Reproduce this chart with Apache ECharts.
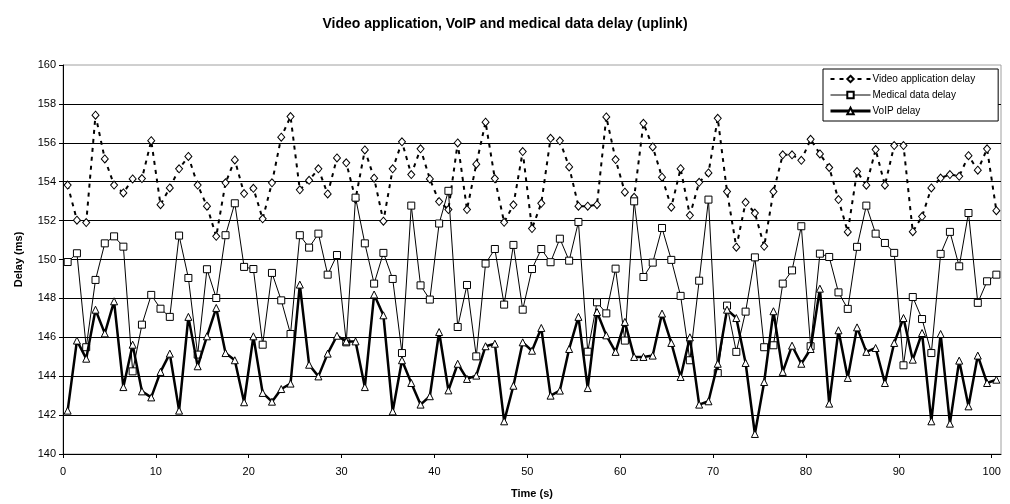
<!DOCTYPE html>
<html>
<head>
<meta charset="utf-8">
<script src="https://cdn.jsdelivr.net/npm/echarts@6/dist/echarts.min.js"></script>
<style>
  html, body { margin: 0; padding: 0; background: #fff; }
  #chart { width: 1010px; height: 504px; }
</style>
</head>
<body>
<div id="chart"></div>
<script>
// Sample times (s)
const times = [
  0.5, 1.5, 2.5, 3.5, 4.5, 5.5, 6.5, 7.5, 8.5, 9.5,
  10.5, 11.5, 12.5, 13.5, 14.5, 15.5, 16.5, 17.5, 18.5, 19.5,
  20.5, 21.5, 22.5, 23.5, 24.5, 25.5, 26.5, 27.5, 28.5, 29.5,
  30.5, 31.5, 32.5, 33.5, 34.5, 35.5, 36.5, 37.5, 38.5, 39.5,
  40.5, 41.5, 42.5, 43.5, 44.5, 45.5, 46.5, 47.5, 48.5, 49.5,
  50.5, 51.5, 52.5, 53.5, 54.5, 55.5, 56.5, 57.5, 58.5, 59.5,
  60.5, 61.5, 62.5, 63.5, 64.5, 65.5, 66.5, 67.5, 68.5, 69.5,
  70.5, 71.5, 72.5, 73.5, 74.5, 75.5, 76.5, 77.5, 78.5, 79.5,
  80.5, 81.5, 82.5, 83.5, 84.5, 85.5, 86.5, 87.5, 88.5, 89.5,
  90.5, 91.5, 92.5, 93.5, 94.5, 95.5, 96.5, 97.5, 98.5, 99.5,
  100.5
];

// Video application delay (ms)
const videoDelay = [
  153.83, 152.02, 151.90, 157.42, 155.17, 153.83, 153.42, 154.14, 154.16, 156.11,
  152.82, 153.68, 154.66, 155.30, 153.83, 152.74, 151.19, 153.94, 155.12, 153.39,
  153.66, 152.09, 153.94, 156.29, 157.35, 153.58, 154.07, 154.66, 153.37, 155.22,
  154.97, 153.10, 155.63, 154.18, 151.97, 154.66, 156.05, 154.37, 155.69, 154.14,
  152.98, 152.57, 155.99, 152.57, 154.90, 157.06, 154.16, 151.91, 152.81, 155.55,
  151.59, 152.89, 156.23, 156.10, 154.76, 152.74, 152.74, 152.82, 157.33, 155.14,
  153.46, 153.20, 157.00, 155.79, 154.23, 152.69, 154.67, 152.27, 153.97, 154.45,
  157.26, 153.49, 150.63, 152.94, 152.39, 150.68, 153.49, 155.38, 155.38, 155.10,
  156.18, 155.43, 154.73, 153.08, 151.42, 154.52, 153.82, 155.65, 153.82, 155.86,
  155.86, 151.43, 152.21, 153.68, 154.19, 154.37, 154.28, 155.34, 154.59, 155.69,
  152.51
];

// Medical data delay (ms)
const medicalDelay = [
  149.87, 150.32, 145.49, 148.95, 150.83, 151.19, 150.66, 144.25, 146.65, 148.18,
  147.47, 147.05, 151.23, 149.05, 145.11, 149.50, 148.02, 151.25, 152.89, 149.62,
  149.51, 145.62, 149.31, 147.90, 146.17, 151.25, 150.61, 151.33, 149.22, 150.23,
  145.74, 153.18, 150.83, 148.76, 150.34, 149.00, 145.19, 152.77, 148.67, 147.94,
  151.85, 153.53, 146.53, 148.69, 145.02, 149.79, 150.54, 147.68, 150.75, 147.42,
  149.51, 150.54, 149.86, 151.07, 149.94, 151.93, 145.26, 147.80, 147.23, 149.53,
  145.83, 152.99, 149.10, 149.84, 151.62, 149.98, 148.13, 144.82, 148.91, 153.08,
  144.16, 147.63, 145.25, 147.32, 150.11, 145.49, 145.59, 148.76, 149.44, 151.71,
  145.54, 150.30, 150.13, 148.31, 147.46, 150.65, 152.77, 151.33, 150.85, 150.34,
  144.56, 148.07, 146.94, 145.19, 150.29, 151.42, 149.65, 152.39, 147.77, 148.88,
  149.22
];

// VoIP delay (ms)
const voipDelay = [
  142.23, 145.83, 144.90, 147.42, 146.20, 147.85, 143.44, 145.62, 143.22, 142.91,
  144.22, 145.16, 142.23, 147.05, 144.51, 146.05, 147.51, 145.19, 144.82, 142.66,
  146.05, 143.14, 142.69, 143.34, 143.62, 148.71, 144.59, 143.99, 145.16, 146.08,
  145.79, 145.79, 143.44, 148.20, 147.13, 142.19, 144.82, 143.65, 142.54, 142.97,
  146.27, 143.27, 144.64, 143.86, 144.03, 145.54, 145.67, 141.68, 143.51, 145.74,
  145.31, 146.48, 143.00, 143.26, 145.40, 147.05, 143.39, 147.30, 146.10, 145.25,
  146.79, 144.99, 144.99, 145.06, 147.22, 145.71, 143.96, 146.00, 142.54, 142.71,
  144.64, 147.42, 146.99, 144.68, 141.03, 143.70, 147.34, 144.22, 145.57, 144.64,
  145.40, 148.50, 142.59, 146.36, 143.91, 146.51, 145.25, 145.45, 143.65, 145.71,
  146.99, 144.85, 146.22, 141.68, 146.17, 141.56, 144.80, 142.45, 145.06, 143.65,
  143.82
];

const seriesNames = ['Video application delay', 'Medical data delay', 'VoIP delay'];

const FONT = 'Arial, "Liberation Sans", sans-serif';

function pairs(values) {
  return values.map((v, i) => [times[i], v]);
}

const videoLine = { color: '#000', width: 2, type: [4, 5] };
const medicalLine = { color: '#000', width: 1, type: 'solid' };
const voipLine = { color: '#000', width: 3, type: 'solid' };
const markerStyle = { color: '#fff', borderColor: '#000', borderWidth: 1 };

const chart = echarts.init(document.getElementById('chart'), null, { renderer: 'canvas' });

chart.setOption({
  animation: false,
  backgroundColor: '#fff',
  textStyle: { fontFamily: FONT, color: '#000' },
  title: {
    text: 'Video application, VoIP and medical data delay (uplink)',
    left: 'center',
    top: 12,
    textStyle: { fontFamily: FONT, fontSize: 14, fontWeight: 'bold', color: '#000' }
  },
  legend: {
    orient: 'vertical',
    left: 823,
    top: 69,
    padding: [5, 23, 5, 6],
    itemGap: 6,
    itemWidth: 40,
    itemHeight: 8,
    borderColor: '#000',
    borderWidth: 1,
    backgroundColor: '#fff',
    textStyle: { fontFamily: FONT, fontSize: 10, color: '#000', padding: [0, 0, 0, -3] },
    data: [
      { name: seriesNames[0], lineStyle: videoLine },
      { name: seriesNames[1], lineStyle: medicalLine },
      { name: seriesNames[2], lineStyle: voipLine }
    ]
  },
  grid: {
    left: 63,
    right: 9,
    top: 65,
    bottom: 50,
    show: true,
    borderColor: '#a0a0a0',
    borderWidth: 1,
    backgroundColor: '#fff'
  },
  xAxis: {
    type: 'value',
    min: 0,
    max: 101,
    interval: 10,
    name: 'Time (s)',
    nameLocation: 'middle',
    nameGap: 34,
    nameTextStyle: { fontFamily: FONT, fontSize: 11, fontWeight: 'bold', color: '#000' },
    axisLine: { show: true, lineStyle: { color: '#000', width: 1 } },
    axisTick: { show: true, length: 4, lineStyle: { color: '#000' } },
    axisLabel: { fontFamily: FONT, fontSize: 11, color: '#000', margin: 12, showMaxLabel: false },
    splitLine: { show: false }
  },
  yAxis: {
    type: 'value',
    min: 140,
    max: 160,
    interval: 2,
    name: 'Delay (ms)',
    nameLocation: 'middle',
    nameGap: 39,
    nameTextStyle: { fontFamily: FONT, fontSize: 11, fontWeight: 'bold', color: '#000' },
    axisLine: { show: true, lineStyle: { color: '#000', width: 1 } },
    axisTick: { show: true, length: 4, lineStyle: { color: '#000' } },
    axisLabel: { fontFamily: FONT, fontSize: 11, color: '#000', margin: 7 },
    splitLine: { show: true, showMinLine: false, showMaxLine: false, lineStyle: { color: '#000', width: 1 } }
  },
  series: [
    {
      name: seriesNames[0],
      type: 'line',
      data: pairs(videoDelay),
      symbol: 'diamond',
      symbolSize: [7, 8],
      showAllSymbol: true,
      lineStyle: videoLine,
      itemStyle: markerStyle,
      z: 3
    },
    {
      name: seriesNames[1],
      type: 'line',
      data: pairs(medicalDelay),
      symbol: 'rect',
      symbolSize: 7,
      showAllSymbol: true,
      lineStyle: medicalLine,
      itemStyle: markerStyle,
      z: 4
    },
    {
      name: seriesNames[2],
      type: 'line',
      data: pairs(voipDelay),
      symbol: 'triangle',
      symbolSize: 7,
      showAllSymbol: true,
      lineStyle: { color: '#000', width: 2.5 },
      itemStyle: markerStyle,
      z: 5
    }
  ]
});
</script>
</body>
</html>
